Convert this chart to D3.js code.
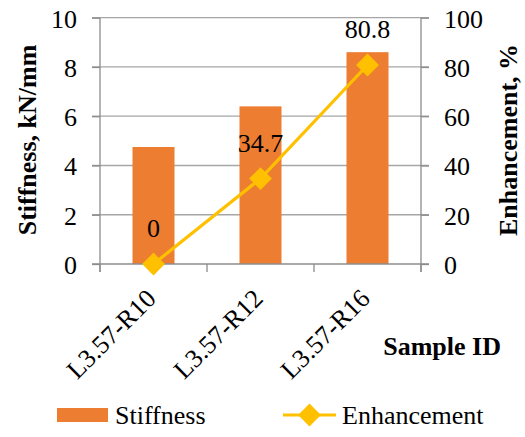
<!DOCTYPE html>
<html>
<head>
<meta charset="utf-8">
<script src="https://cdn.jsdelivr.net/npm/d3@7"></script>
<style>
  html, body { margin: 0; padding: 0; background: #fff; }
  svg { display: block; }
  svg text { font-family: "Liberation Serif", "Times New Roman", serif; fill: #000; }
</style>
</head>
<body>
<svg id="chart" width="525" height="437"></svg>
<script>
// Sample IDs and measured values
const categories = ["L3.57-R10", "L3.57-R12", "L3.57-R16"];
const stiffness = [4.75, 6.4, 8.6];          // kN/mm
const enhancement = [0, 34.7, 80.8];         // %
const leftTicks = [0, 2, 4, 6, 8, 10];
const rightTicks = [0, 20, 40, 60, 80, 100];

const barColor = "#ED7D31";
const lineColor = "#FFC000";
const axisColor = "#8C8C8C";
const gridColor = "#A6A6A6";
const fs = 26;

const svg = d3.select("#chart");
const plot = { left: 100, right: 421, top: 17.7, bottom: 264 };

const x = d3.scaleBand().domain(categories).range([plot.left, plot.right]).paddingInner(0).paddingOuter(0);
const yL = d3.scaleLinear().domain([0, 10]).range([plot.bottom, plot.top]);
const yR = d3.scaleLinear().domain([0, 100]).range([plot.bottom, plot.top]);

// horizontal gridlines
svg.append("g").selectAll("line").data(leftTicks.slice(1)).join("line")
  .attr("x1", plot.left - 8).attr("x2", plot.right + 8)
  .attr("y1", d => yL(d)).attr("y2", d => yL(d))
  .attr("stroke", gridColor).attr("stroke-width", 1.3);

// bars
const barW = 42;
svg.append("g").selectAll("rect").data(stiffness).join("rect")
  .attr("x", (d, i) => x(categories[i]) + x.bandwidth() / 2 - barW / 2)
  .attr("width", barW)
  .attr("y", d => yL(d))
  .attr("height", d => yL(0) - yL(d))
  .attr("fill", barColor);

// left and right value axes
const leftAxis = svg.append("g").attr("transform", `translate(${plot.left},0)`)
  .call(d3.axisLeft(yL).tickValues(leftTicks).tickSize(8).tickPadding(15).tickFormat(d3.format("d")));
const rightAxis = svg.append("g").attr("transform", `translate(${plot.right},0)`)
  .call(d3.axisRight(yR).tickValues(rightTicks).tickSize(8).tickPadding(15).tickFormat(d3.format("d")));
[leftAxis, rightAxis].forEach(g => {
  g.select(".domain").remove();
  g.selectAll(".tick line").attr("stroke", axisColor).attr("stroke-width", 1.3);
  g.selectAll(".tick text").style("font-size", fs + "px").attr("dy", "0.36em");
});
svg.append("line").attr("x1", plot.left).attr("x2", plot.left)
  .attr("y1", plot.top).attr("y2", plot.bottom + 8).attr("stroke", axisColor).attr("stroke-width", 1.3);
svg.append("line").attr("x1", plot.right).attr("x2", plot.right)
  .attr("y1", plot.top).attr("y2", plot.bottom + 8).attr("stroke", axisColor).attr("stroke-width", 1.3);

// bottom axis with ticks at category boundaries
const boundaries = [plot.left].concat(categories.map(c => x(c) + x.bandwidth()));
const bottomAxis = svg.append("g").attr("transform", `translate(0,${plot.bottom})`);
bottomAxis.append("line").attr("x1", plot.left - 8).attr("x2", plot.right + 8)
  .attr("y1", 0).attr("y2", 0).attr("stroke", axisColor).attr("stroke-width", 1.3);
bottomAxis.selectAll("line.tk").data(boundaries).join("line").attr("class", "tk")
  .attr("x1", d => d).attr("x2", d => d).attr("y1", 0).attr("y2", 8)
  .attr("stroke", axisColor).attr("stroke-width", 1.3);

// category labels, rotated
svg.append("g").selectAll("text").data(categories).join("text")
  .attr("transform", d => `translate(${x(d) + x.bandwidth() / 2 + 4},${plot.bottom + 36}) rotate(-45)`)
  .attr("text-anchor", "end")
  .style("font-size", fs + "px")
  .text(d => d);

// enhancement line
const cx = (d, i) => x(categories[i]) + x.bandwidth() / 2;
const line = d3.line().x((d, i) => cx(d, i)).y(d => yR(d));
svg.append("path").datum(enhancement)
  .attr("d", line).attr("fill", "none").attr("stroke", lineColor).attr("stroke-width", 3.2);

const diamond = d3.symbol().type(d3.symbolSquare).size(260);
svg.append("g").selectAll("path").data(enhancement).join("path")
  .attr("d", diamond)
  .attr("transform", (d, i) => `translate(${cx(d, i)},${yR(d)}) rotate(45)`)
  .attr("fill", lineColor);

// value labels
svg.append("g").selectAll("text").data(enhancement).join("text")
  .attr("x", (d, i) => cx(d, i))
  .attr("y", d => yR(d) - 36)
  .attr("dy", "0.36em")
  .attr("text-anchor", "middle")
  .style("font-size", fs + "px")
  .text(d => d);

// axis titles
svg.append("text")
  .attr("transform", `translate(27,140) rotate(-90)`)
  .attr("text-anchor", "middle").attr("dy", "0.35em")
  .style("font-size", fs + "px").style("font-weight", "bold")
  .text("Stiffness, kN/mm");
svg.append("text")
  .attr("transform", `translate(508,140) rotate(-90)`)
  .attr("text-anchor", "middle").attr("dy", "0.35em")
  .style("font-size", fs + "px").style("font-weight", "bold")
  .text("Enhancement, %");
svg.append("text")
  .attr("x", 501).attr("y", 355)
  .attr("text-anchor", "end")
  .style("font-size", fs + "px").style("font-weight", "bold")
  .text("Sample ID");

// legend
const legend = svg.append("g");
legend.append("rect").attr("x", 57).attr("y", 408).attr("width", 51).attr("height", 14).attr("fill", barColor);
legend.append("text").attr("x", 115).attr("y", 424).style("font-size", fs + "px").text("Stiffness");
legend.append("line").attr("x1", 283).attr("x2", 336).attr("y1", 415).attr("y2", 415)
  .attr("stroke", lineColor).attr("stroke-width", 3.2);
legend.append("path").attr("d", diamond).attr("transform", "translate(309.5,415) rotate(45)").attr("fill", lineColor);
legend.append("text").attr("x", 342).attr("y", 424).style("font-size", fs + "px").text("Enhancement");
</script>
</body>
</html>
